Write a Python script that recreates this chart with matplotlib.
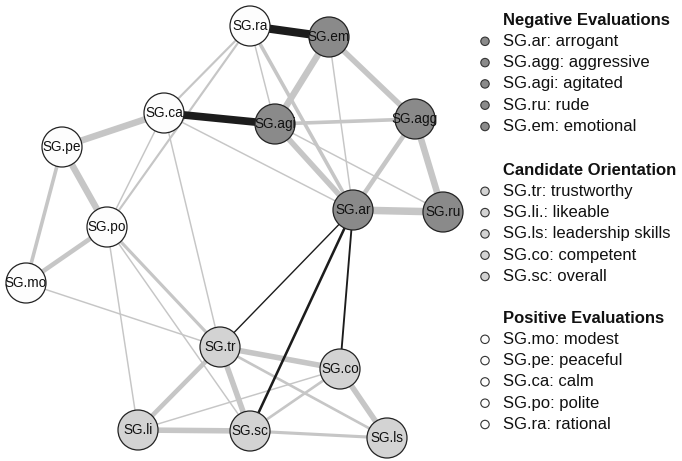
import matplotlib
matplotlib.use("Agg")
import matplotlib.pyplot as plt
from matplotlib.patches import Circle

plt.rcParams['font.family'] = ['Liberation Sans', 'DejaVu Sans']

# Nodes (layout positions in pixel space of the original figure)
node_names = ["SG.ra", "SG.em", "SG.ca", "SG.agi", "SG.agg", "SG.pe", "SG.ar", "SG.ru",
              "SG.po", "SG.mo", "SG.tr", "SG.co", "SG.li", "SG.sc", "SG.ls"]
node_x = [250, 329, 164, 275, 415, 62, 353, 443, 107, 26, 220, 340, 138, 250, 387]
node_y = [26, 37, 113, 124, 119, 147, 210, 212, 227, 283, 347, 369, 430, 431, 438]
node_group = ["pos", "neg", "pos", "neg", "neg", "pos", "neg", "neg",
              "pos", "pos", "cand", "cand", "cand", "cand", "cand"]

# Edges: (from, to, weight); negative weights drawn dark
edge_from = ["SG.ra", "SG.ca", "SG.ra", "SG.ra", "SG.ra", "SG.ra", "SG.em", "SG.em", "SG.em",
             "SG.agi", "SG.agi", "SG.agi", "SG.ca", "SG.agg", "SG.agg", "SG.ar", "SG.ca", "SG.pe",
             "SG.pe", "SG.po", "SG.ca", "SG.ca", "SG.mo", "SG.po", "SG.po", "SG.po", "SG.ar",
             "SG.ar", "SG.ar", "SG.tr", "SG.tr", "SG.tr", "SG.tr", "SG.co", "SG.co", "SG.co",
             "SG.li", "SG.sc"]
edge_to = ["SG.em", "SG.agi", "SG.ca", "SG.po", "SG.agi", "SG.ar", "SG.agi", "SG.agg", "SG.ar",
           "SG.agg", "SG.ar", "SG.ru", "SG.ar", "SG.ar", "SG.ru", "SG.ru", "SG.pe", "SG.po",
           "SG.mo", "SG.mo", "SG.po", "SG.tr", "SG.tr", "SG.tr", "SG.sc", "SG.li", "SG.tr",
           "SG.sc", "SG.co", "SG.co", "SG.li", "SG.sc", "SG.ls", "SG.li", "SG.sc", "SG.ls",
           "SG.sc", "SG.ls"]
edge_weight = [-0.80, -0.75, 0.15, 0.15, 0.08, 0.30, 0.60, 0.50, 0.08,
               0.30, 0.50, 0.08, 0.08, 0.40, 0.60, 0.70, 0.60, 0.60,
               0.30, 0.40, 0.08, 0.08, 0.08, 0.25, 0.08, 0.08, -0.10,
               -0.22, -0.15, 0.50, 0.40, 0.50, 0.20, 0.08, 0.20, 0.50,
               0.50, 0.25]

group_colors = {"neg": "#8a8a8a", "cand": "#d3d3d3", "pos": "#fdfdfd"}

legend_titles = ["Negative Evaluations", "Candidate Orientation", "Positive Evaluations"]
legend_groups = ["neg", "cand", "pos"]
legend_items = [
    ["SG.ar: arrogant", "SG.agg: aggressive", "SG.agi: agitated", "SG.ru: rude", "SG.em: emotional"],
    ["SG.tr: trustworthy", "SG.li.: likeable", "SG.ls: leadership skills", "SG.co: competent", "SG.sc: overall"],
    ["SG.mo: modest", "SG.pe: peaceful", "SG.ca: calm", "SG.po: polite", "SG.ra: rational"],
]

W, H = 682, 461
fig = plt.figure(figsize=(W / 100, H / 100), dpi=100)
ax = fig.add_axes([0, 0, 1, 1])
ax.set_xlim(0, W)
ax.set_ylim(H, 0)
ax.set_aspect('equal')
ax.axis('off')

pos = {n: (x, y) for n, x, y in zip(node_names, node_x, node_y)}
R = 20

# edges: positive first, then negative on top
order = sorted(range(len(edge_from)), key=lambda i: (edge_weight[i] < 0, abs(edge_weight[i])))
for i in order:
    a, b, w = edge_from[i], edge_to[i], edge_weight[i]
    (x1, y1), (x2, y2) = pos[a], pos[b]
    col = "#1c1c1c" if w < 0 else "#c6c6c6"
    lw = 0.5 + abs(w) * 7.0
    if w < 0:
        lw = 0.3 + abs(w) * 7.0
    ax.plot([x1, x2], [y1, y2], color=col, lw=lw, solid_capstyle='butt', zorder=1)

for n, g in zip(node_names, node_group):
    x, y = pos[n]
    ax.add_patch(Circle((x, y), R, facecolor=group_colors[g], edgecolor="#222222", lw=0.9, zorder=3))
    ax.text(x, y, n, ha='center', va='center', fontsize=9.8, color="#111111", zorder=4)

# legend
title_y = [20, 170, 318]
step = 21.3
for t, g, items, ty in zip(legend_titles, legend_groups, legend_items, title_y):
    ax.text(503, ty, t, ha='left', va='center', fontsize=12, fontweight='bold', color="#111111")
    for k, item in enumerate(items):
        yy = ty + step * (k + 1)
        ax.add_patch(Circle((485, yy), 4.2, facecolor=group_colors[g], edgecolor="#333333", lw=0.8))
        ax.text(503, yy, item, ha='left', va='center', fontsize=12, color="#111111")

fig.savefig("out.png", dpi=100)
